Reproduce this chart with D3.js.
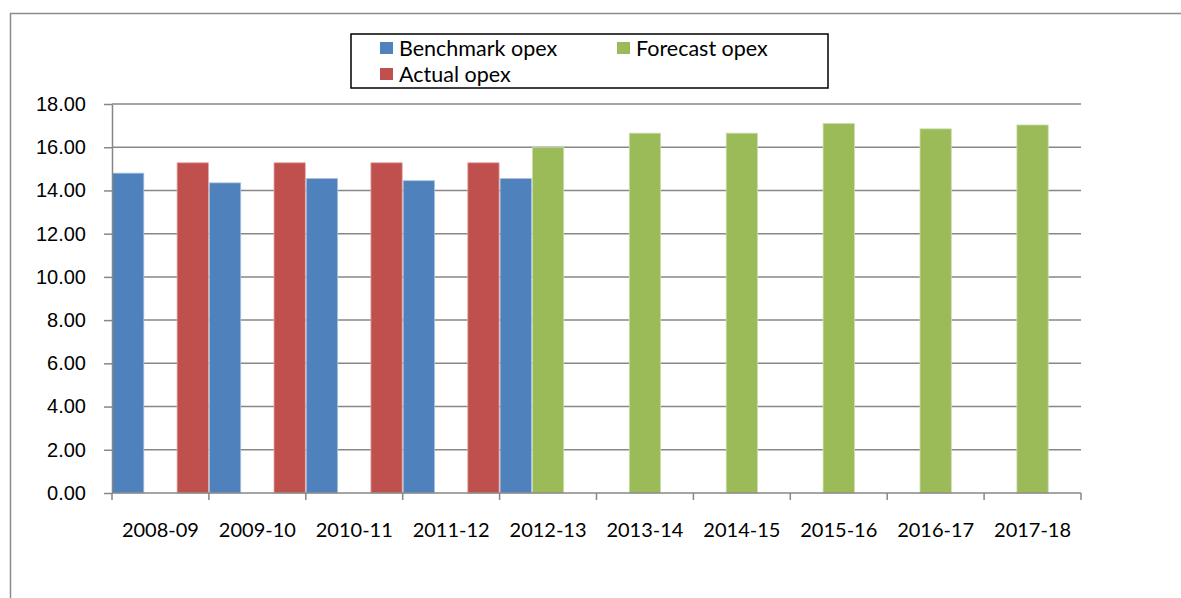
<!DOCTYPE html>
<html>
<head>
<meta charset="utf-8">
<script src="https://cdn.jsdelivr.net/npm/d3@7"></script>
<style>
  body { margin: 0; background: #fff; }
  svg { display: block; font-family: Lato, "Open Sans", sans-serif; }
  .axis path, .axis line { stroke: #878787; }
  .axis text { font-size: 20px; fill: #000; }
</style>
</head>
<body>
<svg class="chart" width="1181" height="598"></svg>
<script>
const years = ['2008-09', '2009-10', '2010-11', '2011-12', '2012-13',
               '2013-14', '2014-15', '2015-16', '2016-17', '2017-18'];
const benchmark = [14.8, 14.35, 14.55, 14.45, 14.55, null, null, null, null, null];
const forecast  = [null, null, null, null, 16.0, 16.65, 16.65, 17.1, 16.85, 17.03];
const actual    = [15.28, 15.28, 15.28, 15.28, null, null, null, null, null, null];
const yTicks = [0, 2, 4, 6, 8, 10, 12, 14, 16, 18];

const series = [
    {name: 'Benchmark opex', values: benchmark, color: '#4f81bd', edge: '#a7c0de'},
    {name: 'Forecast opex', values: forecast, color: '#9bbb59', edge: '#cddcac'},
    {name: 'Actual opex', values: actual, color: '#c0504d', edge: '#e0a8a6'}
];

const svg = d3.select('.chart');

// outer chart frame
svg.append('rect')
    .attr('x', 10.5).attr('y', 13.5)
    .attr('width', 1200).attr('height', 700)
    .attr('fill', 'none')
    .attr('stroke', '#8c8c8c')
    .attr('stroke-width', 1.5);

const margin = {left: 112, right: 1081, top: 104, bottom: 493};

const x = d3.scaleBand()
    .domain(years)
    .range([margin.left, margin.right])
    .padding(0);

const xSub = d3.scaleBand()
    .domain(series.map(s => s.name))
    .range([0, x.bandwidth()])
    .padding(0);

const y = d3.scaleLinear()
    .domain([0, 18])
    .range([margin.bottom, margin.top]);

// gridlines
svg.append('g')
    .selectAll('line')
    .data(yTicks.slice(1))
    .enter().append('line')
        .attr('x1', margin.left).attr('x2', margin.right)
        .attr('y1', d => y(d)).attr('y2', d => y(d))
        .attr('stroke', '#878787')
        .attr('stroke-width', 1.5);

// bars
series.forEach(s => {
    svg.append('g')
        .selectAll('rect')
        .data(years.map((yr, i) => ({yr: yr, v: s.values[i]})).filter(d => d.v != null))
        .enter().append('rect')
            .attr('x', d => x(d.yr) + xSub(s.name) + 0.5)
            .attr('y', d => y(d.v))
            .attr('width', xSub.bandwidth() - 1)
            .attr('height', d => y(0) - y(d.v))
            .attr('fill', s.color)
            .attr('stroke', s.edge)
            .attr('stroke-width', 0.8);
});

// y axis
const yAxis = svg.append('g')
    .attr('class', 'axis')
    .attr('transform', 'translate(' + margin.left + ',0)')
    .call(d3.axisLeft(y).tickValues(yTicks).tickFormat(d3.format('.2f'))
        .tickSizeInner(8).tickSizeOuter(0).tickPadding(18));
yAxis.selectAll('path, line').attr('stroke-width', 1.5);

// x axis, ticks on the category boundaries
const xAxis = svg.append('g')
    .attr('class', 'axis')
    .attr('transform', 'translate(0,' + margin.bottom + ')');
xAxis.append('line')
    .attr('x1', margin.left).attr('x2', margin.right)
    .attr('stroke-width', 1.5);
xAxis.selectAll('.tick-line')
    .data(years.map(yr => x(yr)).concat([margin.right]))
    .enter().append('line')
        .attr('class', 'tick-line')
        .attr('x1', d => d).attr('x2', d => d)
        .attr('y1', 0).attr('y2', 7)
        .attr('stroke-width', 1.5);
xAxis.selectAll('text')
    .data(years)
    .enter().append('text')
        .attr('x', d => x(d) + x.bandwidth() / 2)
        .attr('y', 37)
        .attr('dy', '0.35em')
        .attr('text-anchor', 'middle')
        .text(d => d);

// legend
const legend = svg.append('g');
legend.append('rect')
    .attr('x', 351).attr('y', 34)
    .attr('width', 477).attr('height', 54)
    .attr('fill', '#fff')
    .attr('stroke', '#000')
    .attr('stroke-width', 1.5);

const legendPos = [[380, 48], [617, 48], [380, 74]];
series.forEach((s, i) => {
    const p = legendPos[i];
    legend.append('rect')
        .attr('x', p[0]).attr('y', p[1] - 6)
        .attr('width', 13).attr('height', 12)
        .attr('fill', s.color);
    legend.append('text')
        .attr('x', p[0] + 19).attr('y', p[1])
        .attr('dy', '0.35em')
        .attr('font-size', 21.5)
        .text(s.name);
});
</script>
</body>
</html>
